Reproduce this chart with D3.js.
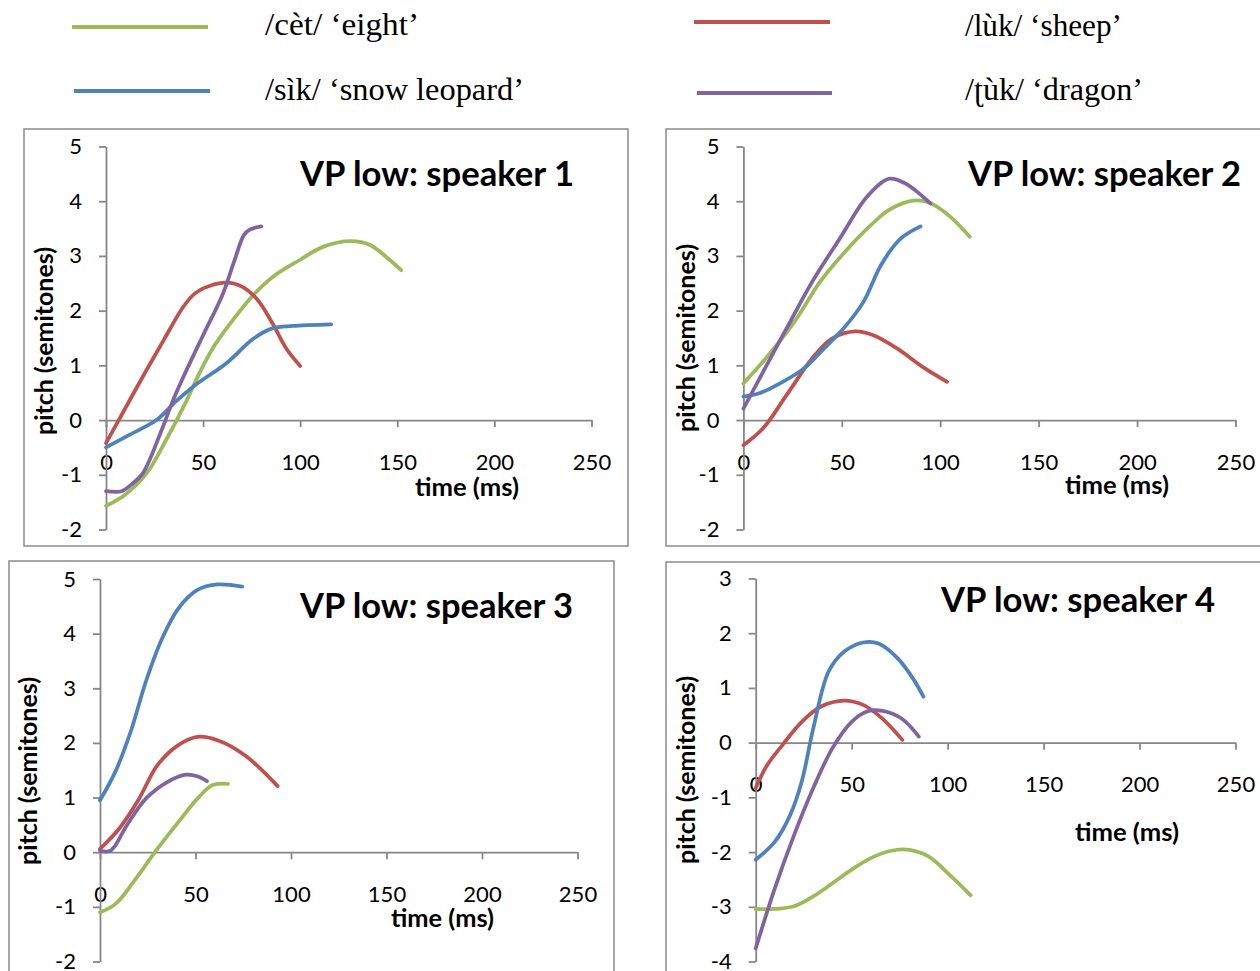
<!DOCTYPE html>
<html>
<head>
<meta charset="utf-8">
<script src="https://cdn.jsdelivr.net/npm/d3@7"></script>
<style>
  body { margin: 0; background: #fff; }
  svg { display: block; }
  .tick text { font-family: Lato, "Open Sans", sans-serif; font-size: 22px; fill: #000; }
  .axis path, .axis line { stroke: #878787; stroke-width: 1.8; }
</style>
</head>
<body>
<svg width="1260" height="971"></svg>
<script>
// legend words, in Excel series order
const words = ['/cèt/ ‘eight’', '/lùk/ ‘sheep’', '/sìk/ ‘snow leopard’', '/ʈùk/ ‘dragon’'];
const colors = ['#9BBB59', '#C0504D', '#4F81BD', '#8064A2'];
const titles = ['VP low: speaker 1', 'VP low: speaker 2', 'VP low: speaker 3', 'VP low: speaker 4'];
const xTicks = [0, 50, 100, 150, 200, 250];
const yRangeA = [-2, 5];
const yRangeB = [-4, 3];

// [time ms, pitch semitones]
const s1Cet = [[0,-1.57],[10,-1.36],[21,-0.97],[31,-0.36],[41,0.32],[48,0.85],[56,1.37],[66,1.86],[76,2.29],[86,2.62],[100,2.93],[112,3.17],[126,3.27],[136,3.2],[144,2.99],[152,2.74]];
const s1Luk = [[0,-0.42],[10,0.22],[20,0.86],[30,1.48],[40,2.08],[46,2.32],[54,2.46],[62,2.51],[70,2.44],[78,2.2],[86,1.75],[93,1.3],[100,0.99]];
const s1Sik = [[0,-0.5],[12,-0.27],[26,0],[36,0.34],[46,0.64],[62,1.04],[76,1.49],[86,1.68],[96,1.72],[116,1.75]];
const s1Tuk = [[0,-1.3],[8,-1.3],[13,-1.18],[19,-0.97],[28,-0.24],[34.5,0.36],[40,0.8],[50,1.55],[60,2.29],[66,2.9],[71,3.38],[74,3.48],[80,3.54]];

const s2Cet = [[0,0.67],[10,1.07],[26,1.8],[39,2.53],[51,3.05],[65,3.57],[74,3.84],[86,4.01],[94,3.98],[104,3.75],[115,3.35]];
const s2Luk = [[0,-0.46],[10,-0.15],[22,0.46],[35,1.13],[45,1.49],[57,1.62],[66,1.55],[78,1.31],[92,0.95],[103.5,0.7]];
const s2Sik = [[0,0.43],[8,0.49],[20,0.7],[31,0.95],[41,1.31],[51,1.68],[61,2.16],[70,2.84],[80,3.32],[90,3.54]];
const s2Tuk = [[0,0.21],[10,0.88],[22,1.68],[35,2.53],[49,3.32],[63,4.09],[74,4.41],[82,4.33],[95,3.96]];

const s3Cet = [[0,-1.1],[8,-0.95],[18,-0.52],[30,0.06],[41,0.55],[51,0.98],[59,1.23],[67,1.25]];
const s3Luk = [[0,0.06],[10,0.43],[20,0.95],[30,1.59],[41,1.96],[51,2.11],[61.5,2.05],[76,1.77],[93,1.21]];
const s3Sik = [[0,0.95],[8,1.47],[16,2.2],[24,3.12],[32.5,3.91],[41,4.46],[51,4.8],[61.5,4.9],[74.4,4.86]];
const s3Tuk = [[0,0.03],[5.6,0.03],[14,0.49],[24,0.98],[35,1.28],[45,1.42],[51,1.39],[56,1.3]];

const s4Cet = [[0,-3.04],[10,-3.04],[20,-2.99],[30,-2.81],[40,-2.57],[50,-2.32],[60,-2.11],[70,-1.98],[80,-1.96],[90,-2.08],[102,-2.45],[112,-2.79]];
const s4Luk = [[0,-0.83],[6,-0.41],[14,-0.04],[24,0.38],[34,0.66],[46,0.77],[56,0.69],[66,0.44],[76.4,0.05]];
const s4Sik = [[0,-2.14],[10,-1.81],[18,-1.32],[24,-0.71],[30,0.26],[38,1.3],[46,1.66],[56,1.83],[64,1.81],[74,1.54],[82,1.17],[87.4,0.84]];
const s4Tuk = [[0,-3.76],[10,-2.66],[20,-1.69],[30,-0.83],[40,-0.1],[50,0.38],[58,0.57],[66,0.58],[76,0.44],[85,0.11]];

const svg = d3.select('svg');

// layout of the four panels (frame, plot area, label spots)
const panels = [
  { frame: [24, 129, 604, 417], x: [106, 591.5], y: [529.5, 146.5], yDom: yRangeA,
    series: [s1Cet, s1Luk, s1Sik, s1Tuk], title: [300, 186, 274], xt: [415, 496, 104], yt: [53, 341] },
  { frame: [666, 129, 620, 417], x: [743.4, 1235.5], y: [529.5, 146.5], yDom: yRangeA,
    series: [s2Cet, s2Luk, s2Sik, s2Tuk], title: [968, 186, 273], xt: [1065, 494, 104], yt: [695, 338] },
  { frame: [9, 561, 605, 440], x: [100, 577.5], y: [961.5, 579], yDom: yRangeA,
    series: [s3Cet, s3Luk, s3Sik, s3Tuk], title: [300, 618, 273], xt: [391, 927, 103], yt: [37, 771] },
  { frame: [666, 562, 620, 440], x: [755.7, 1235.5], y: [961.5, 578.5], yDom: yRangeB,
    series: [s4Cet, s4Luk, s4Sik, s4Tuk], title: [941, 612, 274], xt: [1075, 841, 104], yt: [695, 770] }
];

panels.forEach((p, i) => {
  const g = svg.append('g');
  g.append('rect')
    .attr('x', p.frame[0]).attr('y', p.frame[1])
    .attr('width', p.frame[2]).attr('height', p.frame[3])
    .attr('fill', '#fff').attr('stroke', '#8a8a8a').attr('stroke-width', 1.5);

  const x = d3.scaleLinear().domain([0, 250]).range(p.x);
  const y = d3.scaleLinear().domain(p.yDom).range(p.y);
  const yTicks = d3.range(p.yDom[0], p.yDom[1] + 1);

  g.append('g').attr('class', 'axis')
    .attr('transform', `translate(0,${y(0)})`)
    .call(d3.axisBottom(x).tickValues(xTicks).tickSizeInner(7).tickSizeOuter(0).tickPadding(27))
    .call(a => a.selectAll('.tick text').attr('dy', '0.71em'));

  g.append('g').attr('class', 'axis')
    .attr('transform', `translate(${x(0)},0)`)
    .call(d3.axisLeft(y).tickValues(yTicks).tickSizeInner(7).tickSizeOuter(0).tickPadding(17)
      .tickFormat(d => (d < 0 ? '-' : '') + Math.abs(d)));

  // smoothed lines like Excel's "smoothed line" option
  const line = d3.line().x(d => x(d[0])).y(d => y(d[1])).curve(d3.curveCatmullRom.alpha(0.5));
  p.series.forEach((s, k) => {
    g.append('path').datum(s)
      .attr('d', line)
      .attr('fill', 'none')
      .attr('stroke', colors[k])
      .attr('stroke-width', 3.75)
      .attr('stroke-linecap', 'round')
      .attr('stroke-linejoin', 'round');
  });

  g.append('text')
    .attr('x', p.title[0]).attr('y', p.title[1])
    .attr('textLength', p.title[2]).attr('lengthAdjust', 'spacingAndGlyphs')
    .style('font-family', 'Lato, "Open Sans", sans-serif')
    .style('font-weight', 'bold').style('font-size', '35px')
    .text(titles[i]);

  g.append('text')
    .attr('x', p.xt[0]).attr('y', p.xt[1])
    .attr('textLength', p.xt[2]).attr('lengthAdjust', 'spacingAndGlyphs')
    .style('font-family', 'Lato, "Open Sans", sans-serif')
    .style('font-weight', 'bold').style('font-size', '25px')
    .text('time (ms)');

  g.append('text')
    .attr('transform', `translate(${p.yt[0]},${p.yt[1]}) rotate(-90)`)
    .attr('text-anchor', 'middle')
    .attr('textLength', 188).attr('lengthAdjust', 'spacingAndGlyphs')
    .style('font-family', 'Lato, "Open Sans", sans-serif')
    .style('font-weight', 'bold').style('font-size', '25px')
    .text('pitch (semitones)');
});

// legend: two columns, row-wise order cèt, lùk / sìk, ʈùk
const legendSpots = [
  { line: [72, 208, 27], text: [265, 35, 154] },
  { line: [694, 830, 22], text: [965, 36, 157] },
  { line: [74, 210, 91], text: [265, 100, 259] },
  { line: [697, 832, 93], text: [965, 100, 178] }
];
legendSpots.forEach((l, k) => {
  svg.append('line')
    .attr('x1', l.line[0]).attr('x2', l.line[1])
    .attr('y1', l.line[2]).attr('y2', l.line[2])
    .attr('stroke', colors[k]).attr('stroke-width', 4);
  svg.append('text')
    .attr('x', l.text[0]).attr('y', l.text[1])
    .attr('textLength', l.text[2]).attr('lengthAdjust', 'spacingAndGlyphs')
    .style('font-family', '"Liberation Serif", "DejaVu Serif", serif')
    .style('font-size', '32px')
    .text(words[k]);
});
</script>
</body>
</html>
